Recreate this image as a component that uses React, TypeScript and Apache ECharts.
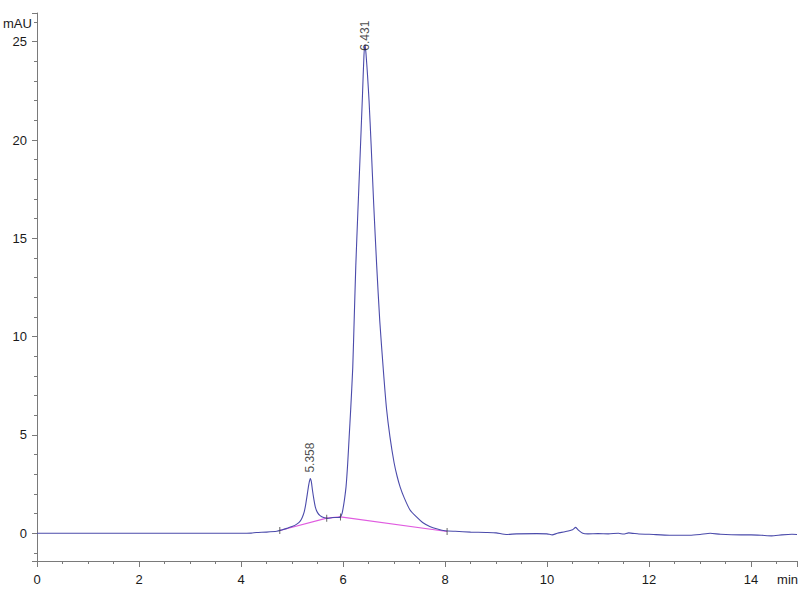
import React, { useEffect, useRef } from "react";
import * as echarts from "echarts";

// retention time (min) and signal (mAU)
const timeMin = [
  0, 0.5, 1.0, 1.5, 2.0, 2.5, 3.0, 3.5, 4.0, 4.2, 4.3, 4.5, 4.7, 4.8, 4.9, 5.0, 5.1, 5.16, 5.2, 5.24,
  5.27, 5.3, 5.33, 5.358, 5.38, 5.4, 5.43, 5.46, 5.5, 5.55, 5.62, 5.7, 5.8, 5.9, 5.95, 5.98, 6.0, 6.03,
  6.06, 6.09, 6.12, 6.15, 6.19, 6.22, 6.25, 6.29, 6.33, 6.38, 6.41, 6.431, 6.45, 6.48, 6.51, 6.55, 6.6,
  6.66, 6.72, 6.79, 6.85, 6.92, 7.0, 7.06, 7.12, 7.2, 7.31, 7.44, 7.56, 7.7, 7.85, 8.0, 8.2, 8.5, 8.8,
  9.0, 9.2, 9.4, 9.8, 10.0, 10.1, 10.2, 10.35, 10.5, 10.56, 10.62, 10.7, 10.8, 11.0, 11.2, 11.4, 11.5,
  11.6, 11.8, 12.0, 12.4, 12.8, 13.0, 13.2, 13.4, 13.8, 14.0, 14.2, 14.4, 14.6, 14.8, 14.9,
];
const signal = [
  0, 0, 0, 0, 0, 0, 0, 0, 0, 0.01, 0.04, 0.06, 0.1, 0.17, 0.25, 0.34, 0.48, 0.62, 0.8, 1.1,
  1.5, 2.0, 2.5, 2.78, 2.6, 2.2, 1.7, 1.3, 1.05, 0.9, 0.8, 0.76, 0.8, 0.8, 0.84, 1.0, 1.25, 1.75,
  2.4, 3.5, 4.9, 6.3, 8.4, 11.0, 13.6, 16.3, 18.9, 22.2, 24.3, 24.85, 24.4, 23.3, 22.0, 19.8, 16.8,
  13.6, 10.8, 8.3, 6.4, 4.9, 3.6, 2.9, 2.35, 1.8, 1.2, 0.83, 0.55, 0.35, 0.22, 0.13, 0.1, 0.06, 0.04,
  0.02, -0.06, -0.03, -0.02, -0.03, -0.08, 0.0, 0.08, 0.18, 0.3, 0.15, 0.0, -0.03, -0.02, -0.03, 0.0, -0.04,
  0.02, -0.04, -0.05, -0.1, -0.1, -0.06, 0.0, -0.05, -0.08, -0.08, -0.1, -0.13, -0.08, -0.05, -0.06,
];

// integration baseline (pink)
const baseTime = [4.76, 5.68, 5.95, 8.04];
const baseValue = [0.14, 0.77, 0.83, 0.09];

// labelled peaks
const peakTime = [5.358, 6.431];
const peakHeight = [2.78, 24.85];
const peakLabels = ["5.358", "6.431"];

const FONT = "'Liberation Sans Narrow', 'Liberation Sans', Arial, sans-serif";

export default function App() {
  const ref = useRef<HTMLDivElement>(null);
  useEffect(() => {
    if (!ref.current) return;
    const chart = echarts.init(ref.current, null, { renderer: "svg" });
    const axisColor = "#7a7a7a";
    chart.setOption({
      animation: false,
      backgroundColor: "#ffffff",
      grid: { left: 37, right: 3, top: 13, bottom: 39, containLabel: false },
      xAxis: {
        type: "value",
        min: 0,
        max: 14.9,
        interval: 2,
        axisLine: { show: true, onZero: false, lineStyle: { color: axisColor, width: 1 } },
        axisTick: { show: true, length: 6, lineStyle: { color: axisColor } },
        minorTick: { show: true, splitNumber: 4, length: 3, lineStyle: { color: axisColor } },
        splitLine: { show: false },
        axisLabel: {
          margin: 12,
          color: "#1a1a1a",
          fontSize: 13,
          fontFamily: FONT,
          showMaxLabel: false,
        },
      },
      yAxis: {
        type: "value",
        min: -1.41,
        max: 26.46,
        splitNumber: 5,
        axisLine: { show: true, onZero: false, lineStyle: { color: axisColor, width: 1 } },
        axisTick: { show: true, length: 5, lineStyle: { color: axisColor } },
        minorTick: { show: true, splitNumber: 5, length: 3, lineStyle: { color: axisColor } },
        splitLine: { show: false },
        axisLabel: {
          margin: 10,
          color: "#1a1a1a",
          fontSize: 13,
          fontFamily: FONT,
          showMinLabel: false,
          showMaxLabel: false,
        },
      },
      graphic: [
        {
          type: "text",
          left: 3,
          top: 17,
          style: { text: "mAU", fill: "#1a1a1a", font: `13px ${FONT}` },
        },
        {
          type: "text",
          right: 2,
          top: 573,
          style: { text: "min", fill: "#1a1a1a", font: `13px ${FONT}` },
        },
      ],
      series: [
        {
          type: "line",
          name: "signal",
          data: timeMin.map((t, i) => [t, signal[i]]),
          showSymbol: false,
          symbol: "none",
          smooth: 0.2,
          lineStyle: { color: "#4b4bab", width: 1.1 },
          z: 3,
        },
        {
          type: "line",
          name: "baseline",
          data: baseTime.map((t, i) => [t, baseValue[i]]),
          showSymbol: false,
          symbol: "none",
          lineStyle: { color: "#e05ce0", width: 1.2 },
          z: 2,
        },
        {
          type: "scatter",
          name: "marks",
          data: baseTime.map((t, i) => [t, baseValue[i]]),
          symbol: "rect",
          symbolSize: [1, 7],
          itemStyle: { color: "#444" },
          z: 4,
        },
        {
          type: "scatter",
          name: "peaks",
          symbolSize: 0,
          data: peakTime.map((t, i) => ({
            value: [t, peakHeight[i]],
            label: {
              show: true,
              formatter: peakLabels[i],
              position: "top",
              rotate: 90,
              align: "left",
              verticalAlign: "middle",
              distance: i === 0 ? 6 : -6,
              color: "#1a1a1a",
              fontSize: 12,
              fontFamily: "'Liberation Sans', Arial, sans-serif",
            },
          })),
          z: 5,
        },
      ],
    });
    return () => chart.dispose();
  }, []);
  return (
    <div
      ref={ref}
      style={{ position: "fixed", left: 0, top: 0, width: 800, height: 600, background: "#fff" }}
    />
  );
}
